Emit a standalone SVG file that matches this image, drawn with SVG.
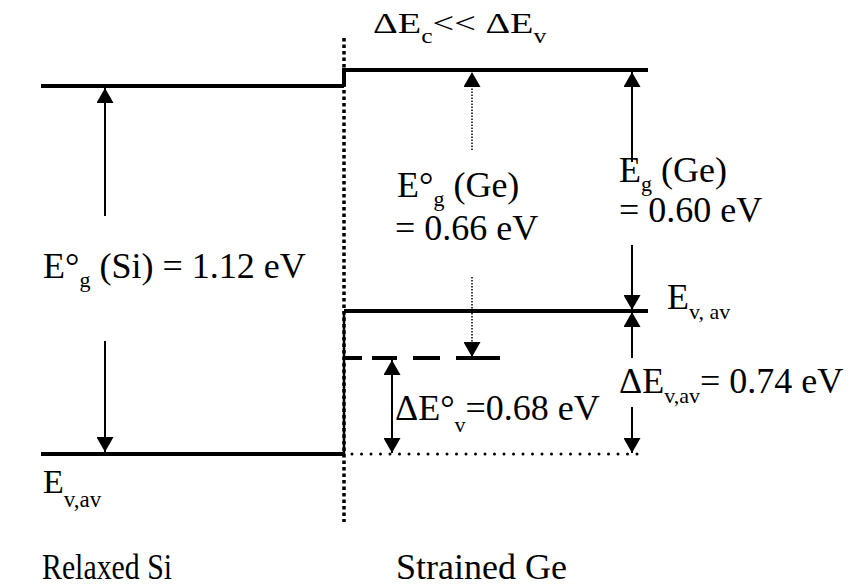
<svg xmlns="http://www.w3.org/2000/svg" width="857" height="587" viewBox="0 0 857 587">
<defs>
<marker id="ah" viewBox="0 0 15 17" refX="15" refY="8.5" markerWidth="15" markerHeight="17" markerUnits="userSpaceOnUse" orient="auto">
<path d="M0,0 L15,8.5 L0,17 z" fill="#000"/>
</marker>
</defs>
<style>
text{font-family:"Liberation Serif","Times New Roman",serif;font-size:36px;fill:#000}
.sub{font-size:22px}
.band{stroke:#000;stroke-width:4;fill:none}
.arr{stroke:#000;stroke-width:2;fill:none;marker-end:url(#ah)}
.darr{stroke:#000;stroke-width:1.5;stroke-dasharray:1.5,1.5;fill:none;marker-end:url(#ah)}
</style>
<rect width="857" height="587" fill="#fff"/>
<g id="interface">
<line x1="344" y1="38" x2="344" y2="522" stroke="#000" stroke-width="3.5" stroke-dasharray="3.5,3"/>
<line x1="344" y1="311" x2="344" y2="454" stroke="#000" stroke-width="2.5"/>
</g>
<g id="si-bands">
<line class="band" x1="41" y1="86" x2="344" y2="86"/>
<line class="band" x1="41" y1="454" x2="344" y2="454"/>
</g>
<g id="ge-bands">
<polyline class="band" points="344,86 344,70 648,70"/>
<line class="band" x1="344" y1="311" x2="648" y2="311"/>
<line class="band" x1="344" y1="358" x2="500" y2="358" stroke-dasharray="18,10,25,16,27,16,44"/>
<line x1="352" y1="454" x2="642" y2="454" stroke="#000" stroke-width="3" stroke-dasharray="0,9.5" stroke-linecap="round"/>
</g>
<g id="connectors">
<line class="arr" x1="105" y1="216" x2="105" y2="88"/>
<line class="arr" x1="105" y1="341" x2="105" y2="452"/>
<line class="darr" x1="472" y1="150" x2="472" y2="72"/>
<line class="darr" x1="472" y1="277" x2="472" y2="357"/>
<line class="arr" x1="632" y1="162" x2="632" y2="72"/>
<line class="arr" x1="632" y1="245" x2="632" y2="310"/>
<line class="arr" x1="632" y1="358" x2="632" y2="312"/>
<line class="arr" x1="632" y1="407" x2="632" y2="453"/>
<line class="arr" x1="392" y1="405" x2="392" y2="360"/>
<line class="arr" x1="392" y1="405" x2="392" y2="453"/>
</g>
<g id="labels">
<text transform="translate(373,33) scale(1.28,1)" style="font-size:30px">ΔE<tspan class="sub" dy="10" style="font-size:20px">c</tspan><tspan dy="-10">&lt;&lt; ΔE</tspan><tspan class="sub" dy="10" style="font-size:20px">v</tspan></text>
<text x="397" y="197">E°<tspan class="sub" dy="9">g</tspan><tspan dy="-9"> (Ge)</tspan></text>
<text x="395" y="240">= 0.66 eV</text>
<text x="619" y="182">E<tspan class="sub" dy="9">g</tspan><tspan dy="-9"> (Ge)</tspan></text>
<text x="619" y="222">= 0.60 eV</text>
<text x="43" y="278">E°<tspan class="sub" dy="9">g</tspan><tspan dy="-9"> (Si) = 1.12 eV</tspan></text>
<text x="43" y="493" style="font-size:34px">E<tspan class="sub" dy="14" style="font-size:23px">v,av</tspan></text>
<text x="667" y="309">E<tspan class="sub" dy="10">v, av</tspan></text>
<text x="619" y="393">ΔE<tspan class="sub" dy="10">v,av</tspan><tspan dy="-10">= 0.74 eV</tspan></text>
<text x="395" y="420">ΔE°<tspan class="sub" dy="12">v</tspan><tspan dy="-12">=0.68 eV</tspan></text>
<text x="42" y="579" textLength="130" lengthAdjust="spacingAndGlyphs">Relaxed Si</text>
<text x="396" y="579">Strained Ge</text>
</g>
</svg>
